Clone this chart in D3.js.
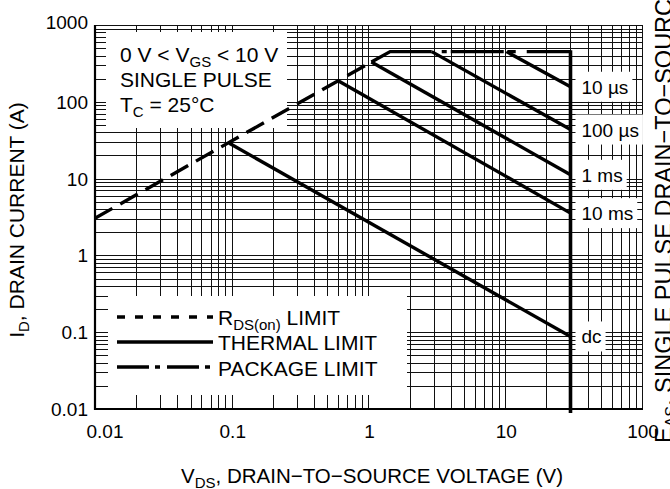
<!DOCTYPE html>
<html><head><meta charset="utf-8">
<script src="https://cdn.jsdelivr.net/npm/d3@7"></script>
<style>
body{margin:0;background:#fff}
svg{display:block}
text{font-family:"Liberation Sans",Arial,Helvetica,sans-serif;fill:#000}
</style>
</head><body>
<svg id="c" width="670" height="489"></svg>
<script>
// ---- data ----
const xTickValues = [0.01, 0.1, 1, 10, 100];
const xTickLabels = ["0.01", "0.1", "1", "10", "100"];
const yTickValues = [0.01, 0.1, 1, 10, 100, 1000];
const yTickLabels = ["0.01", "0.1", "1", "10", "100", "1000"];

// R_DS(on) limit (dashed)
const rdsV = [0.01, 1.05];
const rdsI = [3.05, 330];
// solid envelope continuing R_DS(on) up to the package limit
const envV = [1.05, 1.44, 2.9];
const envI = [330, 450, 450];
// package limit (dash-dot)
const pkgV = [2.9, 30];
const pkgI = [450, 450];
// V_DSS limit (vertical)
const bvV = [30, 30];
const bvI = [450, 0.01];
// thermal limits
const thermalNames = ["10 \u00b5s", "100 \u00b5s", "1 ms", "10 ms", "dc"];
const thermalStartV = [10.2, 2.9, 1.05, 0.60, 0.096];
const thermalStartI = [450, 450, 330, 188, 28.8];
const thermalEndV = [30, 30, 30, 30, 30];
const thermalEndI = [157, 43.5, 11.2, 3.55, 0.088];

const legendNames = ["LIMIT", "THERMAL LIMIT", "PACKAGE LIMIT"];

// ---- chart ----
const svg = d3.select("#c");
const L = 95, R = 642, T = 25, B = 409;
const x = d3.scaleLog().domain([0.01, 100]).range([L, R]);
const y = d3.scaleLog().domain([0.01, 1000]).range([B, T]);

const g = svg.append("g");
// grid
g.selectAll("line.vx").data(x.ticks()).join("line")
  .attr("x1", d => Math.round(x(d)) + 0.5).attr("x2", d => Math.round(x(d)) + 0.5)
  .attr("y1", T).attr("y2", B)
  .attr("stroke", "#111").attr("stroke-width", 1);
g.selectAll("line.hy").data(y.ticks()).join("line")
  .attr("y1", d => Math.round(y(d)) + 0.5).attr("y2", d => Math.round(y(d)) + 0.5)
  .attr("x1", L).attr("x2", R)
  .attr("stroke", "#111").attr("stroke-width", 1);

// white boxes
g.append("rect").attr("x", 106).attr("y", 32).attr("width", 181).attr("height", 96).attr("fill", "#fff");
g.append("rect").attr("x", 108).attr("y", 296).attr("width", 299).attr("height", 99).attr("fill", "#fff");

// axes lines
g.append("line").attr("x1", L).attr("x2", L).attr("y1", T).attr("y2", B + 1).attr("stroke", "#000").attr("stroke-width", 2.2);
g.append("line").attr("x1", L - 1).attr("x2", R + 1).attr("y1", B).attr("y2", B).attr("stroke", "#000").attr("stroke-width", 2.2);

// tick labels
g.selectAll("text.xt").data(xTickValues).join("text")
  .attr("x", (d, i) => x(d) + (i === 0 ? 10 : 1)).attr("y", 438)
  .attr("text-anchor", "middle").attr("font-size", 19)
  .text((d, i) => xTickLabels[i]);
g.selectAll("text.yt").data(yTickValues).join("text")
  .attr("x", 88).attr("y", (d, i) => y(d) + 7 - (i === yTickValues.length - 1 ? 3 : 0))
  .attr("text-anchor", "end").attr("font-size", 19)
  .text((d, i) => yTickLabels[i]);

const line = d3.line().x(d => x(d[0])).y(d => y(d[1]));
const zip = (a, b) => a.map((v, i) => [v, b[i]]);

// data lines
g.append("path").attr("d", line(zip(rdsV, rdsI))).attr("fill", "none")
  .attr("stroke", "#000").attr("stroke-width", 3.4).attr("stroke-dasharray", "20,9");
g.append("path").attr("d", line(zip(envV, envI))).attr("fill", "none")
  .attr("stroke", "#000").attr("stroke-width", 3.4).attr("stroke-linejoin", "miter");
g.append("path").attr("d", line(zip(pkgV, pkgI))).attr("fill", "none")
  .attr("stroke", "#000").attr("stroke-width", 3.4).attr("stroke-dasharray", "0,10,5,4,53,4,8,11,60");
g.append("path").attr("d", `M${x(bvV[0])},${y(bvI[0]) - 1.5}L${x(bvV[1])},${y(bvI[1]) + 4}`).attr("fill", "none")
  .attr("stroke", "#000").attr("stroke-width", 3.6);

thermalNames.forEach((n, i) => {
  g.append("path").attr("d", line([[thermalStartV[i], thermalStartI[i]], [thermalEndV[i], thermalEndI[i]]]))
    .attr("fill", "none").attr("stroke", "#000").attr("stroke-width", 3.4);
  const yy = y(thermalEndI[i]);
  const t = g.append("text").attr("x", x(thermalEndV[i]) + 11).attr("y", yy + 7)
    .attr("font-size", 19).text(n);
  const bb = t.node().getBBox();
  g.insert("rect", "text").attr("x", x(thermalEndV[i]) + 5).attr("y", yy - 15)
    .attr("width", bb.width + 10).attr("height", 30).attr("fill", "#fff");
});

// annotation
const ann = g.append("text").attr("font-size", 21);
const a1 = ann.append("tspan").attr("x", 120).attr("y", 62);
a1.append("tspan").text("0 V < V");
a1.append("tspan").attr("font-size", 15).attr("dy", 5).text("GS");
a1.append("tspan").attr("dy", -5).text(" < 10 V");
ann.append("tspan").attr("x", 120).attr("y", 87).text("SINGLE PULSE");
const a3 = ann.append("tspan").attr("x", 120).attr("y", 112);
a3.append("tspan").text("T");
a3.append("tspan").attr("font-size", 15).attr("dy", 5).text("C");
a3.append("tspan").attr("dy", -5).text(" = 25\u00b0C");

// legend
const legY = [317, 342, 367];
const dashes = ["8,10", null, "32,6,5,7"];
legY.forEach((ly, i) => {
  const p = g.append("line").attr("x1", 117).attr("x2", 213).attr("y1", ly).attr("y2", ly)
    .attr("stroke", "#000").attr("stroke-width", 3.4);
  if (dashes[i]) p.attr("stroke-dasharray", dashes[i]);
});
const lt = g.append("text").attr("font-size", 21);
const l1 = lt.append("tspan").attr("x", 218).attr("y", 325);
l1.append("tspan").text("R");
l1.append("tspan").attr("font-size", 15).attr("dy", 5).text("DS(on)");
l1.append("tspan").attr("dy", -5).text(" " + legendNames[0]);
lt.append("tspan").attr("x", 218).attr("y", 350).text(legendNames[1]);
lt.append("tspan").attr("x", 218).attr("y", 376).text(legendNames[2]);

// axis titles
const xt = g.append("text").attr("x", 372).attr("y", 483).attr("text-anchor", "middle").attr("font-size", 20.5);
xt.append("tspan").text("V");
xt.append("tspan").attr("font-size", 15).attr("dy", 5).text("DS");
xt.append("tspan").attr("dy", -5).text(", DRAIN\u2212TO\u2212SOURCE VOLTAGE (V)");

const yt = g.append("text").attr("transform", "translate(24,220) rotate(-90)").attr("text-anchor", "middle").attr("font-size", 21);
yt.append("tspan").text("I");
yt.append("tspan").attr("font-size", 15).attr("dy", 5).text("D");
yt.append("tspan").attr("dy", -5).text(", DRAIN CURRENT (A)");

const rt = g.append("text").attr("transform", "translate(672,443) rotate(-90)").attr("font-size", 23.5);
rt.append("tspan").text("E");
rt.append("tspan").attr("font-size", 16).attr("dy", 5).text("AS");
rt.append("tspan").attr("dy", -5).text(", SINGLE PULSE DRAIN\u2212TO\u2212SOURCE AVALANCHE ENERGY (mJ)");
</script>
</body></html>
